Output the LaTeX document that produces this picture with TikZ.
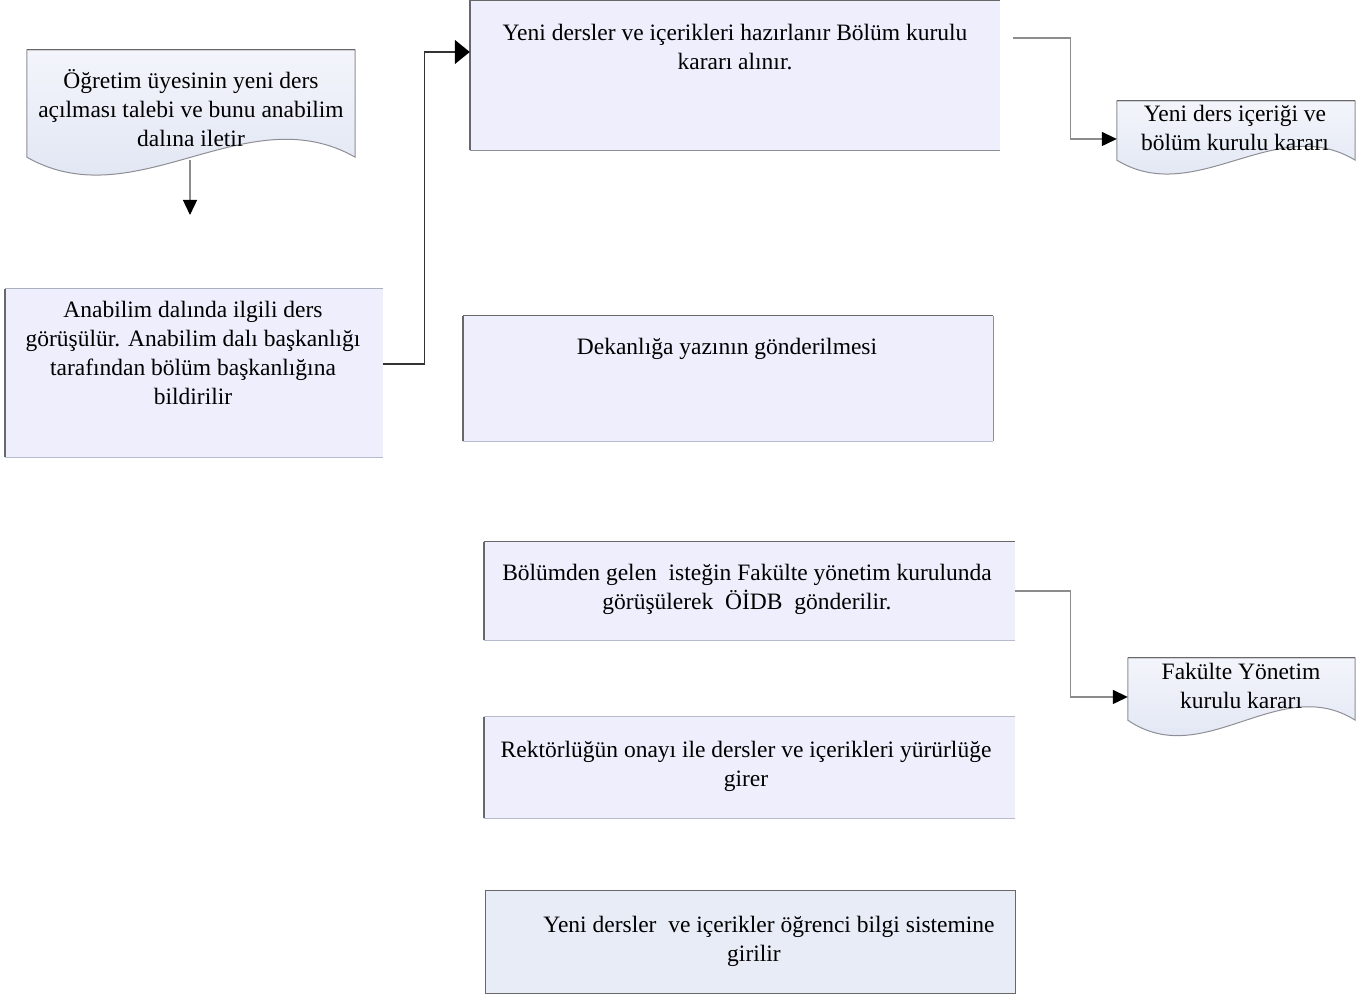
\documentclass[tikz,border=0pt]{standalone}
\usepackage{fontspec}
\setmainfont{Liberation Serif}
\usetikzlibrary{arrows.meta,calc}
\definecolor{boxc}{HTML}{EEEEFC}
\definecolor{boxd}{HTML}{E8ECF6}
\definecolor{doctop}{HTML}{F3F5FB}
\definecolor{docbot}{HTML}{DCE2F1}
\definecolor{edgedark}{HTML}{686868}
\definecolor{edgemid}{HTML}{8E8E96}
\definecolor{edgelight}{HTML}{B6BCCE}
\definecolor{lineg}{HTML}{8C8C8C}
\definecolor{linedark}{HTML}{333333}
\begin{document}
\begin{tikzpicture}[x=1pt,y=1pt,
  procbox/.style={draw=none, fill=boxc, inner sep=0pt, minimum width=#1},
  docbox/.style={draw=none, inner sep=0pt},
  txt/.style={align=center, font=\fontsize{23.5}{29}\selectfont, inner sep=0pt},
  sidedark/.style={draw=edgedark, line width=1.5pt},
  sidemid/.style={draw=edgemid, line width=1.1pt},
  sidelight/.style={draw=edgelight, line width=1.3pt},
  docline/.style={draw=edgemid, line width=1pt},
  conn/.style={draw=lineg, line width=1.4pt},
  conndark/.style={draw=linedark, line width=1.3pt},
  tip/.style={-{Triangle[length=15pt,width=14pt,color=black]}},
  bigtip/.style={-{Triangle[length=15pt,width=24pt,color=black]}}
]
\useasboundingbox (0,0) rectangle (1358,998);

% ---------- process boxes ----------
\node[procbox=378pt, minimum height=168pt] (b2) at (194,625) {};
\node[procbox=530pt, minimum height=150pt] (b3) at (735,923) {};
\node[procbox=530pt, minimum height=125pt] (b4) at (728,619.5) {};
\node[procbox=531pt, minimum height=98pt]  (b5) at (749.5,407) {};
\node[procbox=531pt, minimum height=101pt] (b6) at (749.5,230.5) {};
\node[procbox=529pt, minimum height=102pt, fill=boxd] (b7) at (750.5,56) {};

% box edges
\draw[sidelight] (b2.south west) -- (b2.south east);
\draw[sidemid, draw=edgelight!80!gray] (b2.north west) -- (b2.north east);
\draw[sidedark] (b2.south west) -- (b2.north west);

\draw[sidemid] (b3.south west) -- (b3.south east);
\draw[sidedark] (b3.north west) -- (b3.north east);
\draw[sidedark] (b3.south west) -- (b3.north west);

\draw[sidelight] (b4.south west) -- (b4.south east);
\draw[sidemid] (b4.south east) -- (b4.north east);
\draw[sidemid, draw=edgedark] (b4.north west) -- (b4.north east);
\draw[sidedark] (b4.south west) -- (b4.north west);

\draw[sidelight] (b5.south west) -- (b5.south east);
\draw[sidemid, draw=edgedark] (b5.north west) -- (b5.north east);
\draw[sidedark] (b5.south west) -- (b5.north west);

\draw[sidelight] (b6.south west) -- (b6.south east);
\draw[sidemid, draw=edgelight] (b6.north west) -- (b6.north east);
\draw[sidedark] (b6.south west) -- (b6.north west);

\draw[sidedark, line width=1.3pt] (b7.south west) rectangle (b7.north east);

% ---------- document shapes ----------
\node[docbox, minimum width=328pt, minimum height=107pt] (d1) at (191,894.5) {};
\node[docbox, minimum width=238pt, minimum height=59pt] (d2) at (1236,867.5) {};
\node[docbox, minimum width=227pt, minimum height=62pt] (d3) at (1241.5,309) {};

\shade[top color=doctop, bottom color=docbot, docline]
  (d1.south west) -- (d1.north west) -- (d1.north east) -- (d1.south east)
  .. controls ($(d1.south east)+(-109,62)$) and ($(d1.south west)+(109,-62)$) .. (d1.south west) -- cycle;
\draw[draw=edgedark, line width=1.4pt] (d1.north west) -- (d1.north east);

\shade[top color=doctop, bottom color=docbot, docline]
  (d2.south west) -- (d2.north west) -- (d2.north east) -- (d2.south east)
  .. controls ($(d2.south east)+(-79,48)$) and ($(d2.south west)+(79,-48)$) .. (d2.south west) -- cycle;
\draw[draw=edgedark, line width=1.2pt] (d2.north west) -- (d2.north east);

\shade[top color=doctop, bottom color=docbot, docline]
  (d3.south west) -- (d3.north west) -- (d3.north east) -- (d3.south east)
  .. controls ($(d3.south east)+(-76,48)$) and ($(d3.south west)+(76,-52)$) .. (d3.south west) -- cycle;
\draw[draw=edgedark, line width=1.2pt] (d3.north west) -- (d3.north east);

% ---------- texts ----------
\node[txt] (t1) at (191,890) {Öğretim üyesinin yeni ders\\açılması talebi ve bunu anabilim\\dalına iletir};
\node[txt] (t2) at (193,645.5) {Anabilim dalında ilgili ders\\görüşülür. Anabilim dalı başkanlığı\\tarafından bölüm başkanlığına\\bildirilir};
\node[txt] (t3) at (735,950.5) {Yeni dersler ve içerikleri hazırlanır Bölüm kurulu\\kararı alınır.};
\node[txt] (t4) at (1235,870.5) {Yeni ders içeriği ve\\bölüm kurulu kararı};
\node[txt] (t5) at (727,649) {Dekanlığa yazının gönderilmesi};
\node[txt] (t6) at (747,409) {Bölümden gelen~ isteğin Fakülte yönetim kurulunda\\görüşülerek~ ÖİDB~ gönderilir.};
\node[txt] (t7) at (1241,312.5) {Fakülte Yönetim\\kurulu kararı};
\node[txt] (t8) at (746,231.5) {Rektörlüğün onayı ile dersler ve içerikleri yürürlüğe\\girer};
\node[txt] (t9) at (754,56.5) {\hspace*{30pt}Yeni dersler~ ve içerikler öğrenci bilgi sistemine\\girilir};

% ---------- connectors ----------
\coordinate (a1end) at (190,783);
\draw[conn, tip] ([xshift=-1pt,yshift=-3pt]d1.south) -- (a1end);

\draw[conndark, bigtip] ([yshift=9pt]b2.east) -- ++(41,0) |- ([yshift=23pt]b3.west);

\draw[conn, tip] ([xshift=13pt,yshift=37pt]b3.east) -- ++(57,0) |- ([yshift=-8.5pt]d2.west);

\draw[conn, tip] (b5.east) -- ++(55,0) |- ([yshift=-8pt]d3.west);

\end{tikzpicture}
\end{document}
